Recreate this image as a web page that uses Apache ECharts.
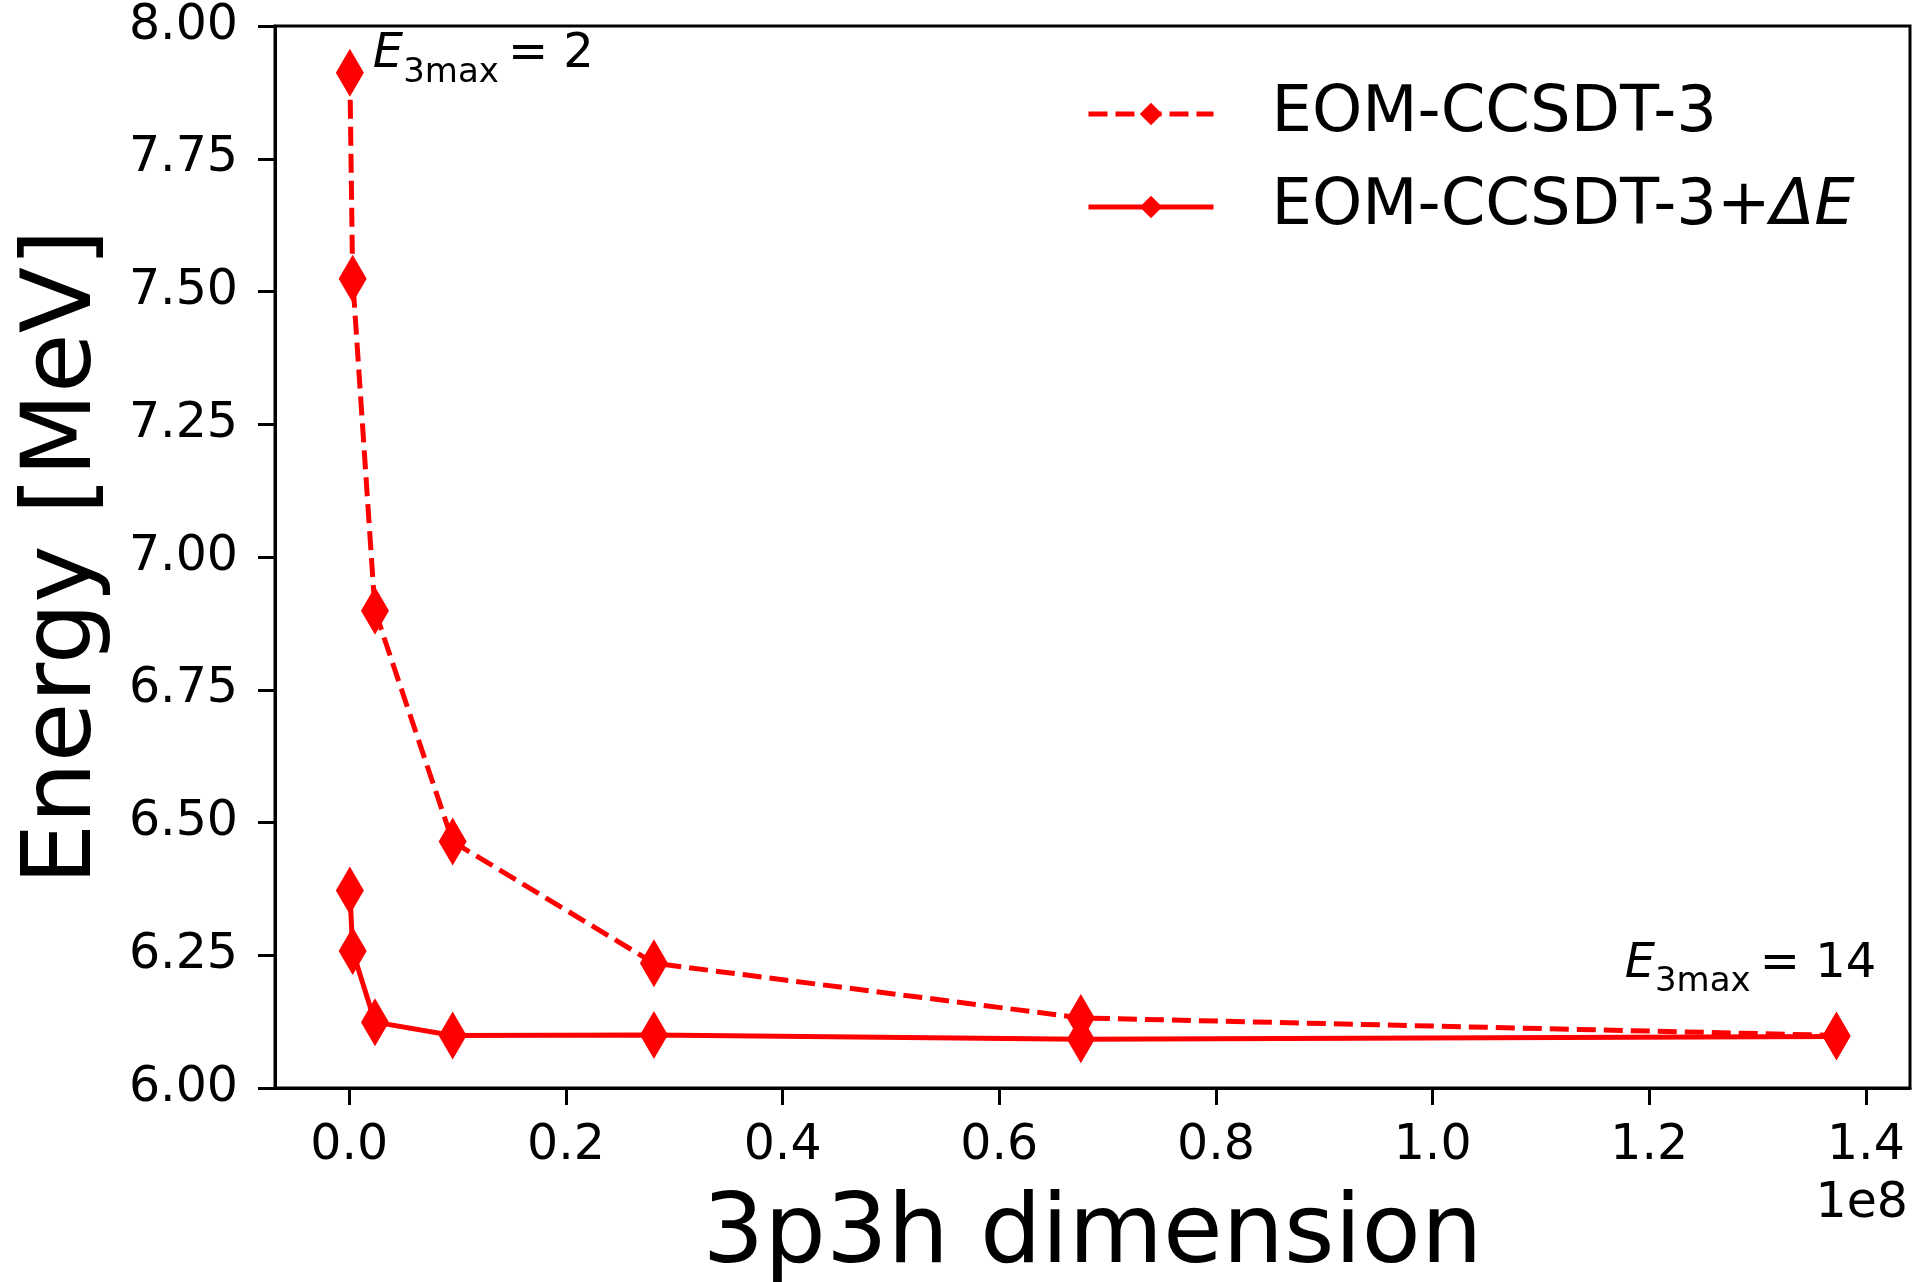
<!DOCTYPE html>
<html>
<head>
<meta charset="utf-8">
<title>3p3h dimension convergence</title>
<script src="https://cdn.jsdelivr.net/npm/echarts@6/dist/echarts.min.js"></script>
<style>
  html, body { margin: 0; padding: 0; background: #fff; }
  #chart { width: 1916px; height: 1282px; }
</style>
</head>
<body>
<div id="chart"></div>
<script>
// 3p3h dimension for E3max = 2, 4, ..., 14
const dims = [50000, 310000, 2370000, 9540000, 28120000, 67530000, 137280000];
// excitation energies [MeV]
const eomCcsdt3 = [7.912, 7.524, 6.899, 6.464, 6.235, 6.132, 6.099];
const eomCcsdt3Corr = [6.372, 6.258, 6.124, 6.099, 6.100, 6.092, 6.097];
const xTicks = [0, 0.2e8, 0.4e8, 0.6e8, 0.8e8, 1.0e8, 1.2e8, 1.4e8];
const seriesNames = ['EOM-CCSDT-3', 'EOM-CCSDT-3+ΔE'];

const FONT = 'DejaVu Sans';
const RED = '#ff0000';

const mathRich = {
  e: { fontFamily: FONT, fontStyle: 'italic', fontSize: 48, lineHeight: 56, color: '#000', verticalAlign: 'top' },
  s: { fontFamily: FONT, fontSize: 34, lineHeight: 34, padding: [25, 0, 0, 0], color: '#000', verticalAlign: 'top' },
  n: { fontFamily: FONT, fontSize: 48, lineHeight: 56, padding: [0, 0, 0, 9], color: '#000', verticalAlign: 'top' }
};

function pairs(ys) { return dims.map((x, i) => [x, ys[i]]); }

const dashedData = pairs(eomCcsdt3).map((p, i) => {
  if (i === 0) {
    return { value: p, label: { show: true, position: 'right', distance: 9, offset: [0, -14],
      formatter: '{e|E}{s|3max}{n|= 2}', rich: mathRich } };
  }
  if (i === dims.length - 1) {
    return { value: p, label: { show: true, position: 'top', distance: 5, offset: [-86, -10],
      formatter: '{e|E}{s|3max}{n|= 14}', rich: mathRich } };
  }
  return p;
});

const chart = echarts.init(document.getElementById('chart'), null, { renderer: 'canvas' });

chart.setOption({
  backgroundColor: '#fff',
  animation: false,
  textStyle: { fontFamily: FONT },
  grid: {
    left: 275, right: 6, top: 26, bottom: 194,
    outerBoundsMode: 'none',
    containLabel: false,
    show: true, borderColor: '#000', borderWidth: 3, backgroundColor: 'transparent'
  },
  legend: {
    orient: 'vertical',
    left: 1081, top: 74,
    itemWidth: 125, itemHeight: 28, itemGap: 23,
    data: seriesNames,
    lineStyle: { width: 5 },
    formatter: function (name) {
      return name === seriesNames[1]
        ? '{g|}{t|EOM-CCSDT-3+}{i|ΔE}'
        : '{g|}{t|' + name + '}';
    },
    textStyle: {
      color: '#000', fontFamily: FONT, fontSize: 64, lineHeight: 70,
      rich: {
        g: { width: 53 },
        t: { fontFamily: FONT, fontSize: 64, lineHeight: 70, color: '#000' },
        i: { fontFamily: FONT, fontStyle: 'italic', fontSize: 64, lineHeight: 70, color: '#000' }
      }
    }
  },
  xAxis: {
    type: 'value',
    min: -0.0686e8, max: 1.4407e8,
    name: '3p3h dimension',
    nameLocation: 'middle',
    nameGap: 100,
    nameTextStyle: { fontFamily: FONT, fontSize: 97, color: '#000' },
    axisLine: { show: true, onZero: false, lineStyle: { color: '#000', width: 3 } },
    axisTick: { show: true, length: 17, lineStyle: { color: '#000', width: 3 }, customValues: xTicks },
    axisLabel: {
      customValues: xTicks,
      margin: 34, fontFamily: FONT, fontSize: 49, color: '#000',
      formatter: v => (v / 1e8).toFixed(1)
    },
    splitLine: { show: false }
  },
  yAxis: {
    type: 'value',
    min: 6, max: 8, interval: 0.25,
    name: 'Energy [MeV]',
    nameLocation: 'middle',
    nameGap: 162,
    nameTextStyle: { fontFamily: FONT, fontSize: 97, color: '#000' },
    axisLine: { show: true, onZero: false, lineStyle: { color: '#000', width: 3 } },
    axisTick: { show: true, length: 17, lineStyle: { color: '#000', width: 3 } },
    axisLabel: {
      margin: 37, fontFamily: FONT, fontSize: 49, color: '#000',
      formatter: v => v.toFixed(2)
    },
    splitLine: { show: false }
  },
  graphic: [{
    type: 'text', right: 8, top: 1180,
    style: { text: '1e8', fontFamily: FONT, fontSize: 49, fill: '#000' }
  }],
  series: [
    {
      name: seriesNames[0],
      type: 'line',
      data: dashedData,
      symbol: 'diamond',
      symbolSize: [28, 48],
      itemStyle: { color: RED },
      lineStyle: { color: RED, width: 5, type: [19, 8] },
      z: 3
    },
    {
      name: seriesNames[1],
      type: 'line',
      data: pairs(eomCcsdt3Corr),
      symbol: 'diamond',
      symbolSize: [28, 48],
      itemStyle: { color: RED },
      lineStyle: { color: RED, width: 5 },
      z: 3
    }
  ]
});
</script>
</body>
</html>
